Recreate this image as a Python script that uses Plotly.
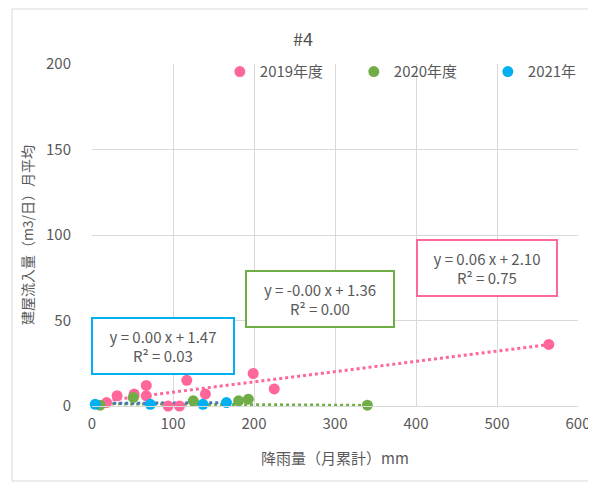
import plotly.graph_objects as go

# 降雨量(月累計) vs 建屋流入量(月平均)
x_2019 = [18, 31, 52, 67, 67, 94, 108, 117, 140, 199, 225, 564]
y_2019 = [2, 6, 7, 6, 12, 0, 0, 15, 7, 19, 10, 36]
x_2020 = [10, 51, 125, 181, 193, 340]
y_2020 = [0.5, 5, 3, 3, 4, 0.5]
x_2021 = [4, 72, 137, 166]
y_2021 = [1, 1, 1, 2]

series_names = ["2019年度", "2020年度", "2021年"]
colors = ["#FF6699", "#70AD47", "#00B0F0"]
trend_colors = ["#FF6699", "#70AD47", "#4472C4"]
# 近似曲線 (slope, intercept) と表示ラベル
trend_coef = [(0.06, 2.10), (-0.003, 1.36), (0.003, 1.47)]
trend_labels = ["y = 0.06 x + 2.10<br>R² = 0.75",
                "y = -0.00 x + 1.36<br>R² = 0.00",
                "y = 0.00 x + 1.47<br>R² = 0.03"]
label_pos = [(488, 80.7), (281, 62.3), (88, 34.8)]
label_width = [136, 144, 138]

FONT = "Noto Sans CJK JP"
GRAY = "#595959"

fig = go.Figure()
data = [(x_2019, y_2019), (x_2020, y_2020), (x_2021, y_2021)]

for (xs, ys), (a, b), tc in zip(data, trend_coef, trend_colors):
    x0, x1 = min(xs), max(xs)
    fig.add_trace(go.Scatter(
        x=[x0, x1], y=[a * x0 + b, a * x1 + b],
        mode="lines", line=dict(color=tc, width=3, dash="dot"),
        showlegend=False, hoverinfo="skip", cliponaxis=False
    ))

for (xs, ys), name, c in zip(data, series_names, colors):
    fig.add_trace(go.Scatter(
        x=xs, y=ys, mode="markers", name=name,
        marker=dict(color=c, size=11), cliponaxis=False
    ))

for text, (ax, ay), c, w in zip(trend_labels, label_pos, colors, label_width):
    fig.add_annotation(
        x=ax, y=ay, text=text, showarrow=False,
        font=dict(family=FONT, size=15, color=GRAY),
        bordercolor=c, borderwidth=2, bgcolor="white",
        width=w, height=52, borderpad=1, align="center"
    )

# 外枠
fig.add_shape(type="rect", xref="paper", yref="paper",
              x0=-80 / 486, x1=1.05, y0=-75 / 342, y1=1 + 55 / 342,
              line=dict(color="#D9D9D9", width=1), layer="below")

# ページ余白(8px)分だけ小さくする
fig.update_layout(
    width=588, height=474,
    margin=dict(l=84, r=18, t=56, b=76, autoexpand=False),
    paper_bgcolor="white", plot_bgcolor="white",
    font=dict(family=FONT, color=GRAY, size=14),
    title=dict(text="#4", x=(303 - 8) / 588, xanchor="center", y=0.9325, yanchor="middle",
               font=dict(size=18, color="#505050")),
    legend=dict(orientation="h", x=0.263, y=0.977, xanchor="left", yanchor="middle",
                bgcolor="rgba(0,0,0,0)", entrywidth=89, itemwidth=30,
                font=dict(size=15, color=GRAY)),
    xaxis=dict(range=[0, 600], dtick=100, showgrid=True, gridcolor="#D9D9D9",
               zeroline=False, showline=True, linecolor="#D9D9D9",
               automargin=False,
               tickfont=dict(size=15), ticklabelstandoff=4,
               title=dict(text="降雨量（月累計）mm", font=dict(size=15), standoff=21)),
    yaxis=dict(range=[0, 200], dtick=50, showgrid=True, gridcolor="#D9D9D9",
               zeroline=False, showline=False, automargin=False,
               tickfont=dict(size=15), ticklabelstandoff=20,
               title=dict(text="建屋流入量（m3/日）月平均", font=dict(size=14), standoff=9)),
)

fig.write_html("out.html")
